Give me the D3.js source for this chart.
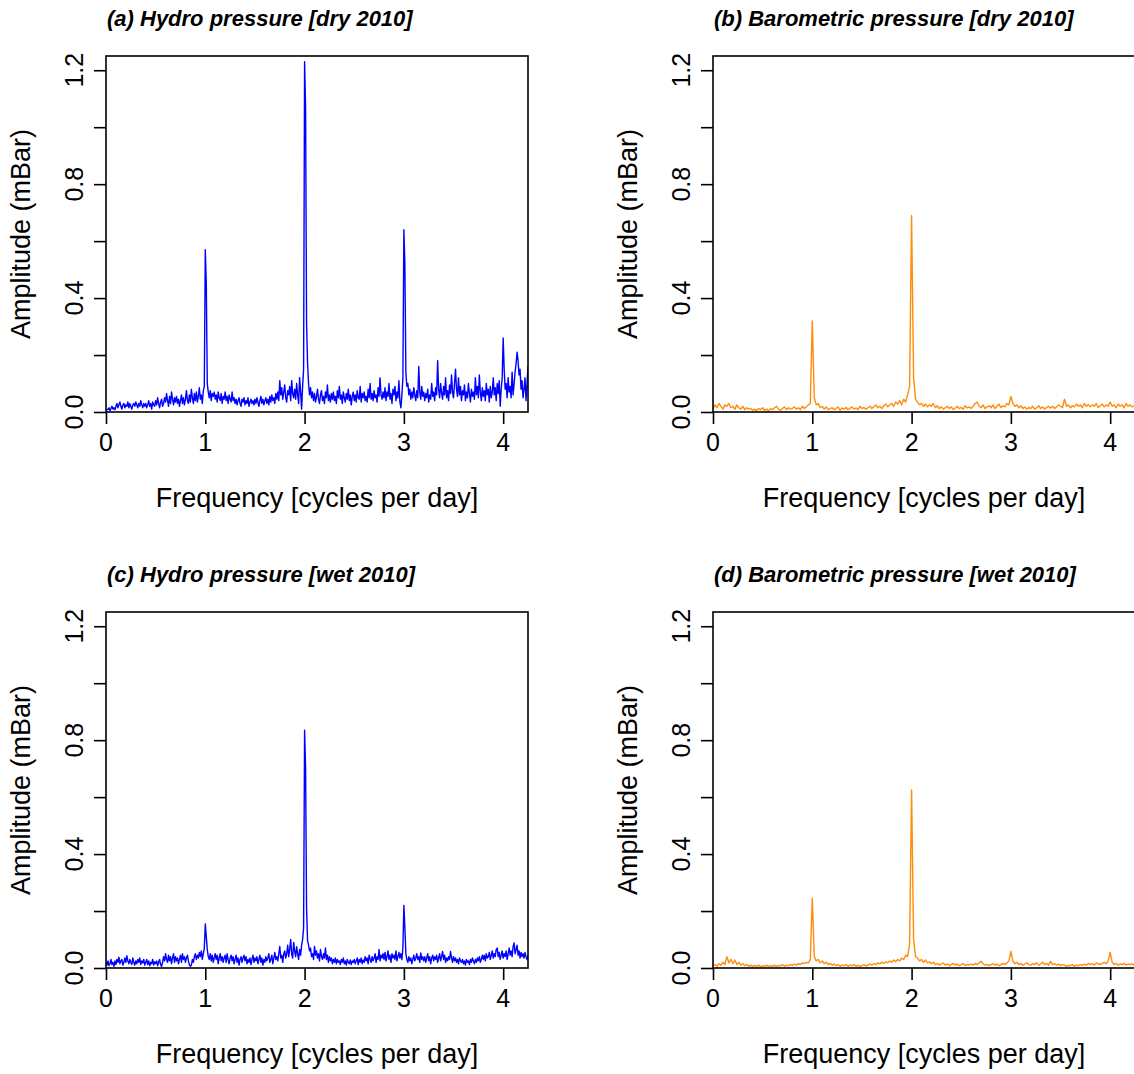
<!DOCTYPE html>
<html>
<head>
<meta charset="utf-8">
<script src="https://cdn.jsdelivr.net/npm/d3@7"></script>
<style>
  body { margin: 0; background: #fff; }
  svg { display: block; }
  text { font-family: "Liberation Sans", Arial, sans-serif; fill: #000; }
</style>
</head>
<body>
<script>
// Hydro pressure amplitude spectra, sampled every 0.01 cycles per day (0 to 4.25 cpd)
const hydroStep = 0.01;

const hydroDry = [
  0.005,0.01,0.008,0.015,0.005,0.012,0.02,0.01,0.015,0.008,
  0.02,0.03,0.015,0.025,0.035,0.02,0.01,0.025,0.03,0.015,
  0.025,0.02,0.035,0.015,0.03,0.02,0.01,0.025,0.03,0.02,
  0.035,0.025,0.015,0.03,0.02,0.04,0.025,0.015,0.03,0.02,
  0.03,0.015,0.025,0.04,0.02,0.03,0.01,0.035,0.025,0.02,
  0.04,0.025,0.05,0.03,0.015,0.035,0.045,0.02,0.03,0.05,
  0.035,0.065,0.04,0.02,0.055,0.03,0.07,0.045,0.025,0.05,
  0.035,0.055,0.03,0.045,0.02,0.04,0.06,0.03,0.05,0.025,
  0.045,0.075,0.04,0.03,0.06,0.035,0.08,0.05,0.03,0.065,
  0.04,0.07,0.035,0.055,0.085,0.045,0.06,0.03,0.075,0.09,
  0.57,0.45,0.1,0.07,0.05,0.075,0.04,0.065,0.055,0.07,
  0.045,0.06,0.035,0.07,0.05,0.04,0.065,0.03,0.055,0.045,
  0.07,0.04,0.055,0.03,0.06,0.045,0.035,0.07,0.04,0.05,
  0.03,0.045,0.025,0.04,0.05,0.03,0.02,0.045,0.035,0.05,
  0.025,0.04,0.03,0.05,0.02,0.035,0.045,0.03,0.04,0.025,
  0.045,0.03,0.05,0.035,0.02,0.04,0.055,0.03,0.045,0.025,
  0.04,0.05,0.03,0.045,0.025,0.055,0.035,0.06,0.04,0.05,
  0.03,0.065,0.045,0.07,0.04,0.11,0.06,0.085,0.045,0.07,
  0.095,0.05,0.035,0.075,0.06,0.09,0.04,0.11,0.065,0.05,
  0.08,0.045,0.1,0.06,0.03,0.12,0.07,0.01,0.09,0.15,
  1.23,1.07,0.31,0.17,0.1,0.06,0.085,0.05,0.07,0.04,
  0.065,0.035,0.055,0.08,0.045,0.03,0.06,0.075,0.04,0.055,
  0.03,0.07,0.05,0.095,0.04,0.06,0.035,0.065,0.045,0.07,
  0.04,0.055,0.03,0.075,0.05,0.09,0.045,0.06,0.03,0.07,
  0.05,0.035,0.065,0.045,0.08,0.04,0.06,0.025,0.055,0.07,
  0.04,0.06,0.035,0.075,0.05,0.045,0.09,0.035,0.065,0.05,
  0.07,0.04,0.055,0.035,0.08,0.05,0.1,0.045,0.065,0.04,
  0.075,0.05,0.06,0.035,0.085,0.055,0.12,0.06,0.045,0.07,
  0.05,0.085,0.04,0.07,0.055,0.1,0.045,0.065,0.03,0.08,
  0.06,0.09,0.04,0.07,0.05,0.11,0.035,0.015,0.06,0.12,
  0.64,0.52,0.14,0.09,0.1,0.06,0.08,0.045,0.07,0.05,
  0.085,0.06,0.04,0.075,0.05,0.16,0.07,0.045,0.09,0.055,
  0.07,0.04,0.065,0.05,0.08,0.035,0.06,0.045,0.1,0.055,
  0.07,0.04,0.085,0.06,0.18,0.08,0.05,0.1,0.065,0.045,
  0.09,0.06,0.12,0.05,0.075,0.04,0.095,0.065,0.13,0.07,
  0.05,0.1,0.15,0.08,0.055,0.12,0.06,0.09,0.04,0.075,
  0.06,0.095,0.04,0.07,0.05,0.1,0.065,0.035,0.08,0.055,
  0.07,0.045,0.12,0.06,0.09,0.05,0.13,0.07,0.04,0.085,
  0.055,0.075,0.04,0.1,0.06,0.08,0.035,0.09,0.05,0.07,
  0.12,0.06,0.085,0.04,0.1,0.065,0.11,0.02,0.08,0.12,
  0.26,0.15,0.08,0.1,0.05,0.12,0.07,0.09,0.05,0.14,
  0.06,0.1,0.14,0.17,0.21,0.18,0.13,0.15,0.08,0.11,
  0.05,0.08,0.12,0.04,0.1,0.16
];

const hydroWet = [
  0.02,0.01,0.025,0.008,0.015,0.03,0.012,0.02,0.006,0.025,
  0.012,0.03,0.02,0.038,0.015,0.025,0.03,0.01,0.02,0.035,
  0.02,0.043,0.025,0.015,0.03,0.02,0.012,0.035,0.02,0.01,
  0.025,0.015,0.03,0.02,0.035,0.012,0.025,0.018,0.03,0.01,
  0.02,0.03,0.012,0.025,0.008,0.02,0.015,0.03,0.01,0.022,
  0.015,0.025,0.008,0.02,0.03,0.012,0.006,0.02,0.04,0.025,
  0.05,0.03,0.02,0.045,0.025,0.04,0.015,0.035,0.05,0.02,
  0.04,0.025,0.035,0.015,0.03,0.045,0.02,0.05,0.03,0.04,
  0.02,0.035,0.045,0.025,0.012,0.006,0.01,0.03,0.02,0.04,
  0.05,0.03,0.045,0.035,0.055,0.04,0.06,0.03,0.05,0.07,
  0.155,0.11,0.065,0.04,0.03,0.05,0.025,0.045,0.02,0.035,
  0.05,0.03,0.045,0.015,0.035,0.05,0.025,0.04,0.02,0.035,
  0.045,0.02,0.05,0.03,0.015,0.035,0.045,0.025,0.04,0.015,
  0.03,0.045,0.02,0.035,0.01,0.03,0.04,0.02,0.035,0.045,
  0.025,0.04,0.015,0.03,0.02,0.035,0.012,0.03,0.045,0.02,
  0.035,0.025,0.04,0.015,0.03,0.045,0.02,0.035,0.01,0.03,
  0.02,0.04,0.025,0.035,0.05,0.02,0.03,0.045,0.015,0.035,
  0.055,0.03,0.04,0.025,0.05,0.076,0.035,0.045,0.02,0.05,
  0.06,0.035,0.05,0.08,0.04,0.065,0.1,0.05,0.035,0.09,
  0.06,0.04,0.075,0.05,0.03,0.065,0.045,0.08,0.1,0.14,
  0.835,0.7,0.21,0.095,0.08,0.06,0.07,0.04,0.05,0.03,
  0.076,0.045,0.06,0.035,0.05,0.025,0.065,0.04,0.03,0.05,
  0.035,0.07,0.03,0.045,0.02,0.04,0.025,0.035,0.015,0.03,
  0.02,0.035,0.015,0.03,0.02,0.025,0.012,0.03,0.02,0.035,
  0.015,0.025,0.01,0.03,0.02,0.015,0.028,0.012,0.025,0.02,
  0.03,0.015,0.025,0.035,0.012,0.03,0.02,0.035,0.015,0.028,
  0.02,0.04,0.025,0.035,0.015,0.045,0.03,0.02,0.04,0.025,
  0.035,0.05,0.02,0.04,0.03,0.065,0.025,0.045,0.035,0.05,
  0.03,0.055,0.025,0.04,0.06,0.03,0.045,0.02,0.05,0.035,
  0.045,0.03,0.06,0.025,0.04,0.055,0.035,0.05,0.03,0.07,
  0.22,0.14,0.05,0.03,0.02,0.04,0.025,0.035,0.015,0.03,
  0.045,0.025,0.035,0.05,0.03,0.04,0.02,0.053,0.03,0.04,
  0.025,0.04,0.02,0.035,0.05,0.025,0.04,0.015,0.035,0.045,
  0.025,0.04,0.03,0.045,0.02,0.035,0.05,0.025,0.04,0.058,
  0.03,0.045,0.02,0.035,0.025,0.04,0.03,0.058,0.035,0.02,
  0.04,0.025,0.035,0.02,0.03,0.015,0.035,0.025,0.02,0.03,
  0.015,0.025,0.01,0.03,0.02,0.025,0.012,0.03,0.02,0.035,
  0.025,0.015,0.03,0.02,0.035,0.025,0.04,0.02,0.03,0.045,
  0.03,0.045,0.025,0.05,0.035,0.04,0.055,0.03,0.045,0.06,
  0.035,0.05,0.04,0.065,0.07,0.04,0.055,0.03,0.045,0.06,
  0.035,0.05,0.04,0.06,0.03,0.05,0.07,0.045,0.06,0.04,
  0.075,0.088,0.05,0.065,0.08,0.045,0.06,0.035,0.055,0.04,
  0.05,0.035,0.055,0.04,0.03,0.045
];

// Barometric pressure amplitude spectra, sampled every 0.02 cycles per day (0 to 4.24 cpd)
const baroStep = 0.02;

const baroDry = [
  0.01,0.025,0.015,0.03,0.02,0.01,0.025,0.02,0.03,0.015,
  0.02,0.01,0.025,0.015,0.01,0.02,0.008,0.015,0.01,0.012,
  0.006,0.01,0.005,0.012,0.008,0.015,0.006,0.01,0.004,0.012,
  0.008,0.015,0.02,0.01,0.006,0.012,0.018,0.008,0.015,0.01,
  0.012,0.018,0.01,0.015,0.008,0.02,0.012,0.018,0.025,0.03,
  0.32,0.05,0.025,0.03,0.015,0.02,0.01,0.018,0.008,0.012,
  0.015,0.008,0.012,0.018,0.006,0.014,0.01,0.016,0.008,0.012,
  0.018,0.01,0.014,0.008,0.02,0.012,0.016,0.01,0.015,0.02,
  0.012,0.018,0.025,0.015,0.02,0.012,0.022,0.028,0.018,0.025,
  0.03,0.02,0.035,0.028,0.04,0.025,0.045,0.035,0.06,0.09,
  0.69,0.12,0.045,0.035,0.025,0.03,0.02,0.028,0.018,0.025,
  0.02,0.03,0.015,0.022,0.012,0.018,0.01,0.015,0.02,0.012,
  0.018,0.008,0.014,0.02,0.012,0.016,0.01,0.022,0.014,0.018,
  0.012,0.02,0.03,0.035,0.02,0.015,0.025,0.012,0.018,0.022,
  0.015,0.025,0.012,0.02,0.028,0.015,0.022,0.018,0.03,0.025,
  0.055,0.03,0.02,0.025,0.015,0.022,0.012,0.018,0.01,0.016,
  0.012,0.02,0.01,0.015,0.022,0.012,0.018,0.01,0.016,0.02,
  0.014,0.02,0.012,0.018,0.025,0.02,0.015,0.045,0.02,0.025,
  0.015,0.022,0.018,0.028,0.02,0.025,0.015,0.03,0.02,0.026,
  0.018,0.025,0.02,0.03,0.015,0.022,0.028,0.018,0.025,0.02,
  0.035,0.02,0.025,0.015,0.028,0.02,0.025,0.015,0.03,0.02,
  0.025,0.018,0.022
];

const baroWet = [
  0.008,0.012,0.006,0.015,0.01,0.02,0.012,0.04,0.018,0.03,
  0.015,0.028,0.012,0.02,0.01,0.015,0.008,0.012,0.006,0.01,
  0.005,0.009,0.006,0.01,0.004,0.008,0.006,0.01,0.005,0.008,
  0.006,0.01,0.005,0.009,0.007,0.012,0.006,0.01,0.008,0.012,
  0.009,0.014,0.01,0.016,0.012,0.018,0.015,0.02,0.018,0.03,
  0.245,0.04,0.025,0.03,0.018,0.025,0.015,0.02,0.012,0.016,
  0.01,0.014,0.008,0.012,0.006,0.01,0.008,0.012,0.006,0.01,
  0.008,0.012,0.006,0.01,0.005,0.009,0.012,0.007,0.01,0.014,
  0.01,0.015,0.012,0.018,0.014,0.02,0.016,0.022,0.018,0.025,
  0.02,0.028,0.022,0.03,0.025,0.035,0.03,0.045,0.04,0.085,
  0.625,0.1,0.04,0.035,0.025,0.03,0.02,0.028,0.018,0.022,
  0.015,0.02,0.012,0.016,0.01,0.014,0.018,0.01,0.014,0.008,
  0.012,0.016,0.01,0.014,0.008,0.012,0.015,0.009,0.012,0.01,
  0.014,0.01,0.016,0.012,0.018,0.024,0.014,0.01,0.012,0.008,
  0.012,0.015,0.01,0.014,0.008,0.012,0.016,0.012,0.018,0.025,
  0.058,0.025,0.015,0.02,0.012,0.016,0.01,0.014,0.018,0.012,
  0.01,0.015,0.012,0.018,0.01,0.014,0.02,0.012,0.016,0.01,
  0.023,0.012,0.015,0.01,0.014,0.008,0.012,0.01,0.006,0.009,
  0.008,0.012,0.006,0.01,0.008,0.012,0.009,0.014,0.01,0.016,
  0.012,0.015,0.01,0.018,0.014,0.012,0.016,0.02,0.015,0.025,
  0.055,0.02,0.012,0.016,0.01,0.014,0.012,0.016,0.01,0.014,
  0.012,0.015,0.01
];

const panelTitles = [
  "(a) Hydro pressure [dry 2010]",
  "(b) Barometric pressure [dry 2010]",
  "(c) Hydro pressure [wet 2010]",
  "(d) Barometric pressure [wet 2010]"
];
const xTicks = [0, 1, 2, 3, 4];
const yTicks = [0, 0.2, 0.4, 0.6, 0.8, 1.0, 1.2];
const yLabelTicks = [0, 0.4, 0.8, 1.2];
const xTitle = "Frequency [cycles per day]";
const yTitle = "Amplitude (mBar)";

const hydroColor = "#0000ff";
const baroColor = "#ff8c0a";

const W = 1134, H = 1074;
const plotW = 422, plotH = 356;
const panels = [
  { title: panelTitles[0], values: hydroDry, step: hydroStep, color: hydroColor, left: 106, top: 56 },
  { title: panelTitles[1], values: baroDry,  step: baroStep,  color: baroColor,  left: 713, top: 56 },
  { title: panelTitles[2], values: hydroWet, step: hydroStep, color: hydroColor, left: 106, top: 612 },
  { title: panelTitles[3], values: baroWet,  step: baroStep,  color: baroColor,  left: 713, top: 612 }
];

const svg = d3.select("body").append("svg")
  .attr("width", W).attr("height", H);

const x = d3.scaleLinear().domain([0, 4.25]).range([0, plotW]);
const y = d3.scaleLinear().domain([0, 1.25]).range([plotH, 0]);

panels.forEach((p, k) => {
  const g = svg.append("g").attr("transform", `translate(${p.left},${p.top})`);

  const clipId = "clip" + k;
  g.append("clipPath").attr("id", clipId)
    .append("rect").attr("width", plotW).attr("height", plotH);

  const line = d3.line()
    .x((d, i) => x(i * p.step))
    .y(d => y(d));

  g.append("path")
    .datum(p.values)
    .attr("clip-path", `url(#${clipId})`)
    .attr("fill", "none")
    .attr("stroke", p.color)
    .attr("stroke-width", 1.4)
    .attr("stroke-linejoin", "round")
    .attr("d", line);

  // frame
  g.append("rect")
    .attr("width", plotW).attr("height", plotH)
    .attr("fill", "none").attr("stroke", "#000").attr("stroke-width", 1.6);

  // x axis
  const xAxis = d3.axisBottom(x).tickValues(xTicks).tickSize(12).tickFormat("");
  const gx = g.append("g").attr("transform", `translate(0,${plotH})`).call(xAxis);
  gx.select(".domain").remove();
  gx.selectAll(".tick line").attr("stroke", "#000").attr("stroke-width", 1.6);
  g.selectAll(".xlab").data(xTicks).join("text")
    .attr("class", "xlab")
    .attr("x", d => x(d)).attr("y", plotH + 39)
    .attr("text-anchor", "middle")
    .attr("font-size", 25)
    .text(d => d3.format("d")(d));

  // y axis
  const yAxis = d3.axisLeft(y).tickValues(yTicks).tickSize(12).tickFormat("");
  const gy = g.append("g").call(yAxis);
  gy.select(".domain").remove();
  gy.selectAll(".tick line").attr("stroke", "#000").attr("stroke-width", 1.6);
  g.selectAll(".ylab").data(yLabelTicks).join("text")
    .attr("class", "ylab")
    .attr("transform", d => `translate(-23,${y(d)}) rotate(-90)`)
    .attr("text-anchor", "middle")
    .attr("font-size", 25)
    .text(d => d3.format(".1f")(d));

  // axis titles
  g.append("text")
    .attr("x", plotW / 2).attr("y", plotH + 95)
    .attr("text-anchor", "middle")
    .attr("font-size", 27)
    .text(xTitle);
  g.append("text")
    .attr("transform", `translate(-76,${plotH / 2}) rotate(-90)`)
    .attr("text-anchor", "middle")
    .attr("font-size", 27)
    .text(yTitle);

  // panel title
  g.append("text")
    .attr("x", 1).attr("y", -30)
    .attr("font-size", 22)
    .attr("font-weight", "bold")
    .attr("font-style", "italic")
    .text(p.title);
});
</script>
</body>
</html>
